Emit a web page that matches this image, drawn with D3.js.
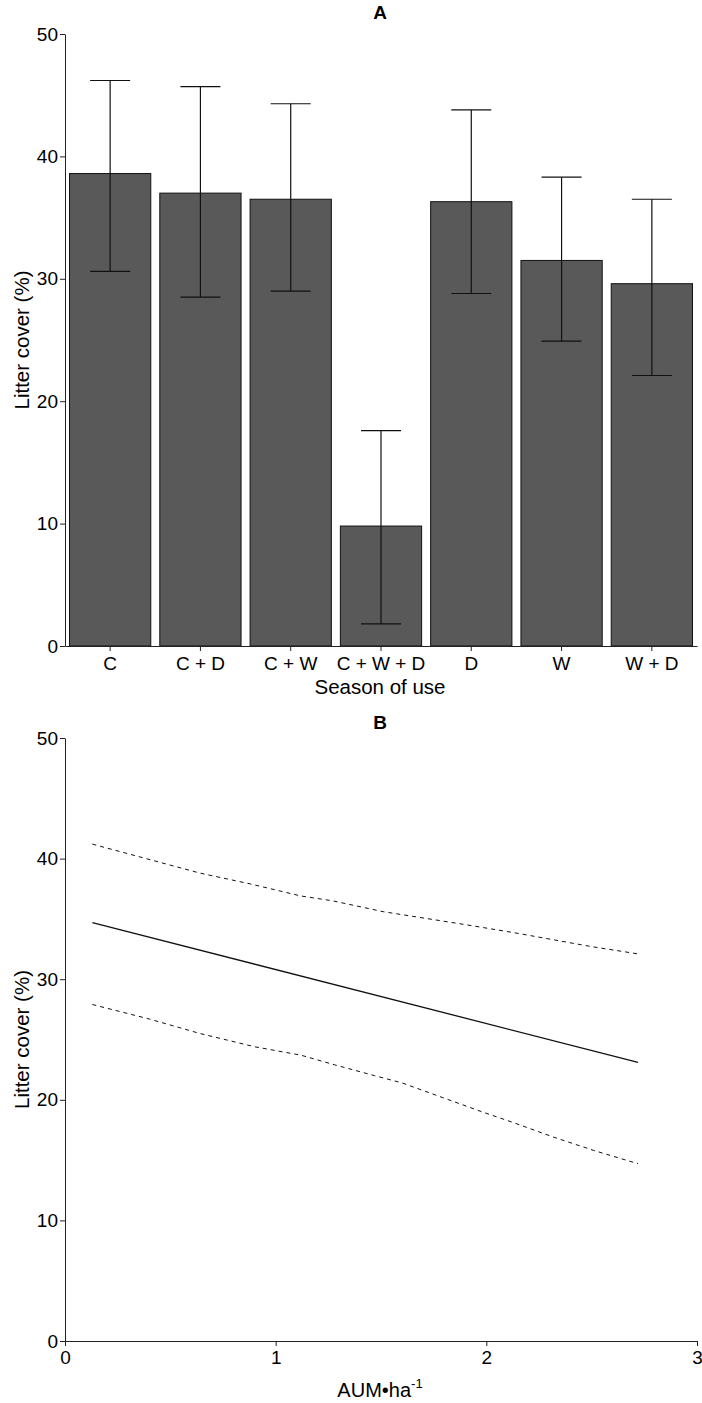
<!DOCTYPE html>
<html>
<head>
<meta charset="utf-8">
<script src="https://cdn.jsdelivr.net/npm/d3@7"></script>
<style>
  body { margin: 0; background: #fff; }
  svg { display: block; font-family: "Liberation Sans", Arial, sans-serif; }
  .axis path, .axis line { stroke: #222; }
  .axis text { font-size: 19px; fill: #000; }
</style>
</head>
<body>
<div id="chart"></div>
<script>
// panel A data
const seasons = ["C", "C + D", "C + W", "C + W + D", "D", "W", "W + D"];
const coverMean = [38.6, 37.0, 36.5, 9.8, 36.3, 31.5, 29.6];
const coverUpper = [46.2, 45.7, 44.3, 17.6, 43.8, 38.3, 36.5];
const coverLower = [30.6, 28.5, 29.0, 1.8, 28.8, 24.9, 22.1];

// panel B data
const fitLine = [[0.13, 34.7], [2.72, 23.1]];
const upperBand = [[0.13, 41.2], [0.64, 38.8], [0.88, 37.9], [1.12, 36.9], [1.27, 36.5],
  [1.51, 35.6], [1.91, 34.5], [2.15, 33.8], [2.5, 32.7], [2.72, 32.1]];
const lowerBand = [[0.13, 27.9], [0.4, 26.7], [0.64, 25.5], [0.9, 24.4], [1.12, 23.7],
  [1.28, 22.9], [1.47, 22.0], [1.6, 21.4], [1.79, 20.2], [1.98, 19.0], [2.13, 18.1],
  [2.32, 16.9], [2.51, 15.8], [2.72, 14.7]];
const yTicks = [0, 10, 20, 30, 40, 50];
const xTicksB = [0, 1, 2, 3];

const w = 702, h = 1403;
const left = 65, right = 697;

const svg = d3.select("#chart").append("svg")
  .attr("width", w)
  .attr("height", h);

// ---------- panel A ----------
const yA = d3.scaleLinear().domain([0, 50]).range([646, 34]);
const xA = d3.scaleBand().domain(seasons).range([left, right])
  .paddingInner(0.1).paddingOuter(0.05);

const gA = svg.append("g");

gA.selectAll("rect.bar")
  .data(seasons)
  .join("rect")
  .attr("class", "bar")
  .attr("x", d => xA(d))
  .attr("y", (d, i) => yA(coverMean[i]))
  .attr("width", xA.bandwidth())
  .attr("height", (d, i) => yA(0) - yA(coverMean[i]))
  .attr("fill", "#595959")
  .attr("stroke", "#111")
  .attr("stroke-width", 1);

// error bars
const capW = 40;
const err = gA.selectAll("g.err").data(seasons).join("g").attr("class", "err")
  .attr("stroke", "#111").attr("stroke-width", 1.2);
err.append("line")
  .attr("x1", d => xA(d) + xA.bandwidth() / 2)
  .attr("x2", d => xA(d) + xA.bandwidth() / 2)
  .attr("y1", (d, i) => yA(coverUpper[i]))
  .attr("y2", (d, i) => yA(coverLower[i]));
err.append("line")
  .attr("x1", d => xA(d) + xA.bandwidth() / 2 - capW / 2)
  .attr("x2", d => xA(d) + xA.bandwidth() / 2 + capW / 2)
  .attr("y1", (d, i) => yA(coverUpper[i]))
  .attr("y2", (d, i) => yA(coverUpper[i]));
err.append("line")
  .attr("x1", d => xA(d) + xA.bandwidth() / 2 - capW / 2)
  .attr("x2", d => xA(d) + xA.bandwidth() / 2 + capW / 2)
  .attr("y1", (d, i) => yA(coverLower[i]))
  .attr("y2", (d, i) => yA(coverLower[i]));

// axes A
gA.append("g").attr("class", "axis")
  .attr("transform", `translate(${left},0)`)
  .call(d3.axisLeft(yA).tickValues(yTicks).tickSize(5).tickSizeOuter(0).tickPadding(2));
gA.append("g").attr("class", "axis")
  .attr("transform", `translate(0,${yA(0)})`)
  .call(d3.axisBottom(xA).tickSize(5).tickSizeOuter(0).tickPadding(6));

gA.append("text").attr("x", 380).attr("y", 19)
  .attr("text-anchor", "middle").attr("font-weight", "bold").attr("font-size", 19)
  .text("A");
gA.append("text").attr("x", 380).attr("y", 694)
  .attr("text-anchor", "middle").attr("font-size", 20.5)
  .text("Season of use");
gA.append("text")
  .attr("transform", `translate(29,${yA(25)}) rotate(-90)`)
  .attr("text-anchor", "middle").attr("font-size", 20.5)
  .text("Litter cover (%)");

// ---------- panel B ----------
const yB = d3.scaleLinear().domain([0, 50]).range([1341, 738]);
const xB = d3.scaleLinear().domain([0, 3]).range([left, right]);
const gB = svg.append("g");

const line = d3.line().x(d => xB(d[0])).y(d => yB(d[1]));

gB.append("path").datum(fitLine).attr("d", line)
  .attr("fill", "none").attr("stroke", "#111").attr("stroke-width", 1.3);
gB.append("path").datum(upperBand).attr("d", line)
  .attr("fill", "none").attr("stroke", "#111").attr("stroke-width", 1)
  .attr("stroke-dasharray", "4,4");
gB.append("path").datum(lowerBand).attr("d", line)
  .attr("fill", "none").attr("stroke", "#111").attr("stroke-width", 1)
  .attr("stroke-dasharray", "4,4");

gB.append("g").attr("class", "axis")
  .attr("transform", `translate(${left},0)`)
  .call(d3.axisLeft(yB).tickValues(yTicks).tickSize(5).tickSizeOuter(0).tickPadding(2));
gB.append("g").attr("class", "axis")
  .attr("transform", `translate(0,${yB(0)})`)
  .call(d3.axisBottom(xB).tickValues(xTicksB).tickFormat(d3.format("d"))
    .tickSize(5).tickSizeOuter(0).tickPadding(5));

gB.append("text").attr("x", 380).attr("y", 729)
  .attr("text-anchor", "middle").attr("font-weight", "bold").attr("font-size", 19)
  .text("B");
const xl = gB.append("text").attr("x", 380).attr("y", 1397)
  .attr("text-anchor", "middle").attr("font-size", 20);
xl.append("tspan").text("AUM\u2022ha");
xl.append("tspan").attr("dy", -9).attr("font-size", 13).text("-1");
gB.append("text")
  .attr("transform", `translate(29,${yB(25)}) rotate(-90)`)
  .attr("text-anchor", "middle").attr("font-size", 20.5)
  .text("Litter cover (%)");
</script>
</body>
</html>
